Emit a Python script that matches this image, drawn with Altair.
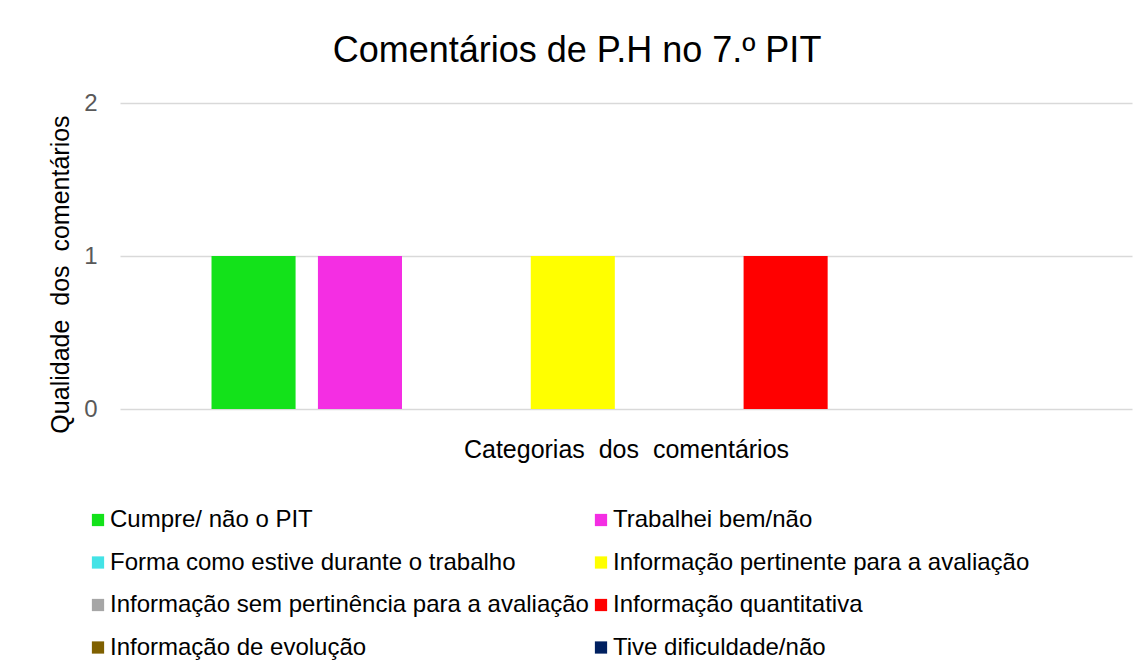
import altair as alt
import pandas as pd

categorias = [
    "Cumpre/ não o PIT",
    "Trabalhei bem/não",
    "Forma como estive durante o trabalho",
    "Informação pertinente para a avaliação",
    "Informação sem pertinência para a avaliação",
    "Informação quantitativa",
    "Informação de evolução",
    "Tive dificuldade/não",
]
valores = [1, 1, 0, 1, 0, 1, 0, 0]
cores = ["#13E21A", "#F42EE3", "#43E3E6", "#FFFF00", "#A6A6A6", "#FF0000", "#7F6000", "#002060"]
marcas_y = [0, 1, 2]

# legend is read row by row in two columns
ordem_legenda = [0, 2, 4, 6, 1, 3, 5, 7]
legenda_dom = [categorias[i] for i in ordem_legenda]
legenda_cores = [cores[i] for i in ordem_legenda]

df = pd.DataFrame({"categoria": categorias, "valor": valores})

FONT = "Liberation Sans"

chart = (
    alt.Chart(df)
    .mark_bar()
    .encode(
        x=alt.X(
            "categoria:N",
            sort=categorias,
            scale=alt.Scale(domain=categorias, paddingInner=0.21, paddingOuter=0.86),
            axis=alt.Axis(
                title="Categorias\u00a0 dos\u00a0 comentários",
                labels=False,
                ticks=False,
                domain=False,
                grid=False,
                titleFontSize=25,
                titleFont=FONT,
                titleFontWeight="normal",
                titleColor="#000000",
                titlePadding=28,
            ),
        ),
        y=alt.Y(
            "valor:Q",
            scale=alt.Scale(domain=[0, 2], nice=False),
            axis=alt.Axis(
                title="Qualidade\u00a0 dos\u00a0 comentários",
                values=marcas_y,
                labelExpr="format(datum.value, 'd')",
                grid=True,
                ticks=False,
                domain=False,
                labelOverlap=False,
                gridColor="#D9D9D9",
                gridWidth=1.5,
                labelFontSize=24,
                labelFont=FONT,
                labelColor="#595959",
                labelPadding=23,
                titleFontSize=25,
                titleFont=FONT,
                titleFontWeight="normal",
                titleColor="#000000",
                titlePadding=10,
                titleY=171,
            ),
        ),
        color=alt.Color(
            "categoria:N",
            scale=alt.Scale(domain=legenda_dom, range=legenda_cores),
            legend=alt.Legend(
                title=None,
                orient="none",
                legendX=-34,
                legendY=405,
                columns=2,
                columnPadding=0,
                rowPadding=18.5,
                symbolType="square",
                symbolSize=150,
                symbolStrokeWidth=0,
                labelFontSize=24,
                labelFont=FONT,
                labelColor="#000000",
                labelOffset=0,
                labelLimit=1000,
            ),
        ),
    )
    .properties(
        width=1012,
        height=306,
        view=alt.ViewBackground(stroke="transparent", strokeWidth=0, strokeOpacity=0),
        title=alt.TitleParams(
            "Comentários de P.H no 7.º PIT",
            fontSize=36,
            font=FONT,
            fontWeight="normal",
            color="#000000",
            anchor="middle",
            dx=-49,
            offset=21,
        ),
        autosize=alt.AutoSizeParams(type="none"),
        padding={"left": 112, "top": 95, "right": 2, "bottom": 260},
    )
    .configure_view(stroke="transparent", strokeWidth=0, strokeOpacity=0)
    .configure(background="#FFFFFF")
)

chart.save("out.html", embed_options={"renderer": "svg", "actions": False})
